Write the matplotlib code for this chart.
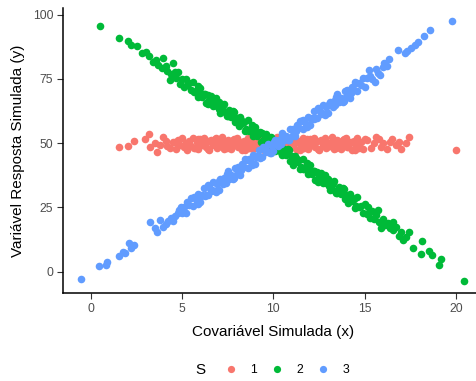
import matplotlib
matplotlib.use('Agg')
import matplotlib.pyplot as plt
from matplotlib.lines import Line2D

# cores padrao do ggplot
cores = ['#F8766D', '#00BA38', '#619CFF']
grupos = ['1', '2', '3']

# grupo 1 (vermelho)
x1 = [1.58, 2.04, 2.35, 3.0, 3.22, 3.26, 3.5, 3.64, 3.8, 3.95, 4.1, 4.2, 4.35, 4.5,
      4.6, 4.7, 4.8, 4.9, 5.0, 5.1, 5.2, 5.3, 5.4, 5.5, 5.6, 5.7, 5.8, 5.9, 6.0,
      6.1, 6.2, 6.3, 6.4, 6.5, 6.6, 6.7, 6.8, 6.9, 7.0, 7.1, 7.2, 7.3, 7.4, 7.5,
      7.6, 7.7, 7.8, 7.9, 8.0, 8.1, 8.2, 8.3, 8.4, 8.5, 8.6, 8.7, 8.8, 8.9, 9.0,
      9.1, 9.2, 9.3, 9.4, 9.5, 9.6, 9.7, 9.8, 9.9, 10.0, 10.1, 10.2, 10.3, 10.4, 10.5,
      10.6, 10.7, 10.8, 10.9, 11.0, 11.1, 11.2, 11.3, 11.4, 11.5, 11.6, 11.7, 11.8, 11.9, 12.0,
      12.1, 12.2, 12.3, 12.4, 12.5, 12.6, 12.7, 12.8, 12.9, 13.0, 13.1, 13.2, 13.3, 13.4, 13.5,
      13.6, 13.7, 13.8, 13.9, 14.0, 14.1, 14.2, 14.3, 14.4, 14.5, 14.6, 14.7, 14.8, 14.9, 15.0,
      15.15, 15.35, 15.5, 15.6, 15.8, 15.9, 16.0, 16.2, 16.36, 16.5, 16.72, 16.9, 17.0, 17.27,
      17.45, 20.0,
      5.65, 5.85, 6.05, 6.25, 6.45, 6.65, 6.85, 7.05, 7.25, 7.45, 7.65, 7.85, 8.05, 8.25, 8.45,
      8.65, 8.85, 9.05, 9.25, 9.45, 9.65, 9.85, 10.05, 10.25, 10.45, 10.65, 10.85, 11.05, 11.25, 11.45,
      11.65, 11.85, 12.05, 12.25, 12.45, 12.65, 12.85, 13.05, 13.25, 13.45, 13.65, 13.85, 14.05, 14.25, 14.45]
y1 = [48.4, 48.9, 50.9, 51.6, 53.6, 48.4, 50.0, 46.7, 49.5, 52.5, 51.0, 49.0, 48.0, 50.5,
      50.5, 47.9, 51.3, 49.4, 52.2, 48.6, 50.0, 47.3, 50.8, 49.0, 51.9, 48.2, 50.3, 47.6, 51.6,
      49.5, 52.0, 48.4, 50.7, 47.4, 51.1, 49.2, 51.7, 48.0, 50.2, 48.8, 52.3, 47.8, 49.9, 51.4,
      50.5, 47.9, 51.3, 49.4, 52.2, 48.6, 50.0, 47.3, 50.8, 49.0, 51.9, 48.2, 50.3, 47.6, 51.6,
      49.5, 52.0, 48.4, 50.7, 47.4, 51.1, 49.2, 51.7, 48.0, 50.2, 48.8, 52.3, 47.8, 49.9, 51.4,
      50.5, 47.9, 51.3, 49.4, 52.2, 48.6, 50.0, 47.3, 50.8, 49.0, 51.9, 48.2, 50.3, 47.6, 51.6,
      49.5, 52.0, 48.4, 50.7, 47.4, 51.1, 49.2, 51.7, 48.0, 50.2, 48.8, 52.3, 47.8, 49.9, 51.4,
      50.5, 47.9, 51.3, 49.4, 52.2, 48.6, 50.0, 47.3, 50.8, 49.0, 51.9, 48.2, 50.3, 47.6, 51.6,
      51.4, 48.0, 50.0, 52.3, 51.5, 48.6, 50.2, 47.8, 50.6, 51.5, 49.3, 50.5, 47.6, 50.2,
      52.3, 47.4,
      48.3, 51.7, 49.7, 50.8, 47.6, 50.4, 52.1, 48.9, 51.2, 48.1, 50.0, 51.8, 48.6, 50.6, 47.4,
      48.3, 51.7, 49.7, 50.8, 47.6, 50.4, 52.1, 48.9, 51.2, 48.1, 50.0, 51.8, 48.6, 50.6, 47.4,
      48.3, 51.7, 49.7, 50.8, 47.6, 50.4, 52.1, 48.9, 51.2, 48.1, 50.0, 51.8, 48.6, 50.6, 47.4]

# grupo 2 (verde)
x2 = [0.52, 1.55, 2.05, 2.22, 2.53, 2.81, 3.04, 3.2, 3.4, 3.6, 3.7, 3.91, 3.95, 4.1, 4.2, 4.32, 4.4, 4.5,
      4.6, 4.7, 4.8, 4.9, 5.0, 5.1, 5.2, 5.3, 5.4, 5.5, 5.6, 5.7, 5.8, 5.9, 6.0,
      6.1, 6.2, 6.3, 6.4, 6.5, 6.6, 6.7, 6.8, 6.9, 7.0, 7.1, 7.2, 7.3, 7.4, 7.5,
      7.6, 7.7, 7.8, 7.9, 8.0, 8.1, 8.2, 8.3, 8.4, 8.5, 8.6, 8.7, 8.8, 8.9, 9.0,
      9.1, 9.2, 9.3, 9.4, 9.5, 9.6, 9.7, 9.8, 9.9, 10.0, 10.1, 10.2, 10.3, 10.4, 10.5,
      10.6, 10.7, 10.8, 10.9, 11.0, 11.1, 11.2, 11.3, 11.4, 11.5, 11.6, 11.7, 11.8, 11.9, 12.0,
      12.1, 12.2, 12.3, 12.4, 12.5, 12.6, 12.7, 12.8, 12.9, 13.0, 13.1, 13.2, 13.3, 13.4, 13.5,
      13.6, 13.7, 13.8, 13.9, 14.0, 14.1, 14.2, 14.3, 14.4, 14.5, 14.6, 14.7, 14.8, 14.9, 15.0,
      15.1, 15.2, 15.3, 15.4, 15.5, 15.6, 15.72, 15.8, 15.9, 16.0, 16.1, 16.3, 16.4, 16.53, 16.57,
      16.7, 16.9, 17.0, 17.1, 17.27, 17.45, 17.63, 18.09, 18.14, 18.5, 18.69, 19.09, 19.18, 20.42,
      5.65, 5.85, 6.05, 6.25, 6.45, 6.65, 6.85, 7.05, 7.25, 7.45, 7.65, 7.85, 8.05, 8.25, 8.45,
      8.65, 8.85, 9.05, 9.25, 9.45, 9.65, 9.85, 10.05, 10.25, 10.45, 10.65, 10.85, 11.05, 11.25, 11.45,
      11.65, 11.85, 12.05, 12.25, 12.45, 12.65, 12.85, 13.05, 13.25, 13.45, 13.65, 13.85, 14.05, 14.25, 14.45]
y2 = [95.6, 90.8, 89.8, 88.2, 87.8, 85.0, 85.6, 84.0, 81.7, 82.5, 80.5, 79.1, 83.0, 80.0, 78.0, 74.6, 77.0, 81.1,
      77.8, 75.3, 77.7, 73.2, 74.9, 71.7, 75.1, 72.7, 73.3, 70.6, 74.0, 70.0, 70.6, 68.0, 71.4,
      67.9, 69.1, 65.6, 68.9, 66.8, 68.5, 64.4, 66.4, 64.5, 66.2, 61.9, 63.8, 65.3, 61.6, 60.7,
      62.8, 60.3, 62.7, 58.2, 59.9, 56.7, 60.1, 57.7, 58.3, 55.6, 59.0, 55.0, 55.6, 53.0, 56.4,
      52.9, 54.1, 50.6, 53.9, 51.8, 53.5, 49.4, 51.4, 49.5, 51.2, 46.9, 48.8, 50.3, 46.6, 45.7,
      47.8, 45.3, 47.7, 43.2, 44.9, 41.7, 45.1, 42.7, 43.3, 40.6, 44.0, 40.0, 40.6, 38.0, 41.4,
      37.9, 39.1, 35.6, 38.9, 36.8, 38.5, 34.4, 36.4, 34.5, 36.2, 31.9, 33.8, 35.3, 31.6, 30.7,
      32.8, 30.3, 32.7, 28.2, 29.9, 26.7, 30.1, 27.7, 28.3, 25.6, 29.0, 25.0, 25.6, 23.0, 26.4,
      22.5, 25.0, 21.0, 23.5, 20.5, 22.0, 24.0, 19.5, 16.9, 20.5, 18.0, 19.0, 17.0, 16.3, 19.5,
      17.5, 14.0, 15.6, 12.5, 13.4, 15.6, 9.1, 6.8, 11.9, 8.1, 6.5, 2.6, 4.8, -3.5,
      69.8, 72.2, 69.2, 69.3, 65.1, 66.9, 67.6, 63.4, 64.7, 60.6, 61.5, 62.3, 58.1, 59.1, 54.9,
      54.8, 57.2, 54.2, 54.3, 50.1, 51.9, 52.6, 48.4, 49.7, 45.6, 46.5, 47.3, 43.1, 44.1, 39.9,
      39.8, 42.2, 39.2, 39.3, 35.1, 36.9, 37.6, 33.4, 34.7, 30.6, 31.5, 32.3, 28.1, 29.1, 24.9]

# grupo 3 (azul)
x3 = [-0.51, 0.45, 0.85, 0.89, 1.55, 1.77, 1.9, 2.09, 2.22, 2.4, 3.26, 3.5, 3.64, 3.77, 3.95,
      4.1, 4.22, 4.4, 4.5, 4.6, 4.77, 4.85, 4.95,
      5.0, 5.1, 5.2, 5.3, 5.4, 5.5, 5.6, 5.7, 5.8, 5.9, 6.0, 6.1, 6.2, 6.3, 6.4,
      6.5, 6.6, 6.7, 6.8, 6.9, 7.0, 7.1, 7.2, 7.3, 7.4, 7.5, 7.6, 7.7, 7.8, 7.9,
      8.0, 8.1, 8.2, 8.3, 8.4, 8.5, 8.6, 8.7, 8.8, 8.9, 9.0, 9.1, 9.2, 9.3, 9.4,
      9.5, 9.6, 9.7, 9.8, 9.9, 10.0, 10.1, 10.2, 10.3, 10.4, 10.5, 10.6, 10.7, 10.8, 10.9,
      11.0, 11.1, 11.2, 11.3, 11.4, 11.5, 11.6, 11.7, 11.8, 11.9, 12.0, 12.1, 12.2, 12.3, 12.4,
      12.5, 12.6, 12.7, 12.8, 12.9, 13.0, 13.1, 13.2, 13.3, 13.4, 13.5, 13.6, 13.7, 13.8, 13.9,
      14.0, 14.1, 14.2, 14.3, 14.4, 14.5, 14.6, 14.7, 14.8, 14.9, 15.0,
      15.1, 15.22, 15.3, 15.4, 15.54, 15.6, 15.72, 15.85, 15.98, 16.08, 16.2, 16.32, 16.8,
      17.18, 17.3, 17.54, 17.75, 17.9, 18.27, 18.6, 19.76,
      5.65, 5.85, 6.05, 6.25, 6.45, 6.65, 6.85, 7.05, 7.25, 7.45, 7.65, 7.85, 8.05, 8.25, 8.45,
      8.65, 8.85, 9.05, 9.25, 9.45, 9.65, 9.85, 10.05, 10.25, 10.45, 10.65, 10.85, 11.05, 11.25, 11.45,
      11.65, 11.85, 12.05, 12.25, 12.45, 12.65, 12.85, 13.05, 13.25, 13.45, 13.65, 13.85, 14.05, 14.25, 14.45]
y3 = [-2.8, 2.2, 2.6, 3.9, 6.1, 7.8, 7.3, 11.3, 9.1, 10.4, 19.2, 16.9, 15.6, 20.1, 17.5,
      18.5, 19.8, 21.0, 19.6, 21.5, 22.7, 24.0, 25.3,
      23.0, 25.2, 22.7, 27.0, 25.9, 28.6, 25.5, 28.5, 27.6, 30.3, 27.0, 29.9, 32.4, 29.7, 29.8,
      32.9, 31.4, 34.8, 31.3, 34.0, 31.8, 36.2, 34.8, 36.4, 34.7, 39.1, 36.1, 37.7, 36.1, 40.5,
      38.0, 40.2, 37.7, 42.0, 40.9, 43.6, 40.5, 43.5, 42.6, 45.3, 42.0, 44.9, 47.4, 44.7, 44.8,
      47.9, 46.4, 49.8, 46.3, 49.0, 46.8, 51.2, 49.8, 51.4, 49.7, 54.1, 51.1, 52.7, 51.1, 55.5,
      53.0, 55.2, 52.7, 57.0, 55.9, 58.6, 55.5, 58.5, 57.6, 60.3, 57.0, 59.9, 62.4, 59.7, 59.8,
      62.9, 61.4, 64.8, 61.3, 64.0, 61.8, 66.2, 64.8, 66.4, 64.7, 69.1, 66.1, 67.7, 66.1, 70.5,
      68.0, 70.2, 67.7, 72.0, 70.9, 73.6, 70.5, 73.5, 72.6, 75.3, 72.0,
      75.5, 78.5, 76.0, 75.0, 73.9, 79.0, 77.2, 76.5, 79.6, 81.1, 80.0, 82.6, 86.3,
      85.0, 86.0, 86.9, 88.3, 89.5, 91.7, 94.1, 97.5,
      28.9, 26.5, 29.5, 29.4, 33.6, 31.8, 31.1, 35.3, 34.0, 38.1, 37.2, 36.4, 40.6, 39.6, 43.8,
      43.9, 41.5, 44.5, 44.4, 48.6, 46.8, 46.1, 50.3, 49.0, 53.1, 52.2, 51.4, 55.6, 54.6, 58.8,
      58.9, 56.5, 59.5, 59.4, 63.6, 61.8, 61.1, 65.3, 64.0, 68.1, 67.2, 66.4, 70.6, 69.6, 73.8]

xticks = [0, 5, 10, 15, 20]
yticks = [0, 25, 50, 75, 100]

plt.rcParams['font.family'] = ['Liberation Sans', 'DejaVu Sans']

fig = plt.figure(figsize=(4.76, 3.81), dpi=100)
ax = fig.add_axes([0.1324, 0.2302, 0.8676, 0.748])

for xs, ys, c in zip([x1, x2, x3], [y1, y2, y3], cores):
    ax.scatter(xs, ys, s=30, color=c, linewidths=0, zorder=3)

ax.set_xlim(-1.51, 21.09)
ax.set_ylim(-8.4, 102.5)
ax.set_xticks(xticks)
ax.set_yticks(yticks)
ax.spines['top'].set_visible(False)
ax.spines['right'].set_visible(False)
for s in ['left', 'bottom']:
    ax.spines[s].set_linewidth(1.1)
ax.tick_params(length=4, width=0.8, color='#333333', labelcolor='#4D4D4D', labelsize=8.8, pad=3)

ax.set_xlabel('Covariável Simulada (x)', fontsize=11)
ax.set_ylabel('Variável Resposta Simulada (y)', fontsize=11)
ax.xaxis.set_label_coords(0.508, -0.111)
ax.yaxis.set_label_coords(-0.092, 0.5)

# legenda embaixo, titulo a esquerda
fig.text(200 / 476, 1 - 370 / 381, 'S', fontsize=11, ha='center', va='center')
handles = [Line2D([], [], marker='o', ls='', color=c, markersize=5.2, markeredgewidth=0) for c in cores]
ax.legend(handles, grupos, ncol=3, loc='center', bbox_to_anchor=(287 / 476, 1 - 370 / 381),
          bbox_transform=fig.transFigure, frameon=False, fontsize=8.8,
          handlelength=1.0, handletextpad=1.1, columnspacing=1.1, borderpad=0)

fig.savefig('out.png', dpi=100)
